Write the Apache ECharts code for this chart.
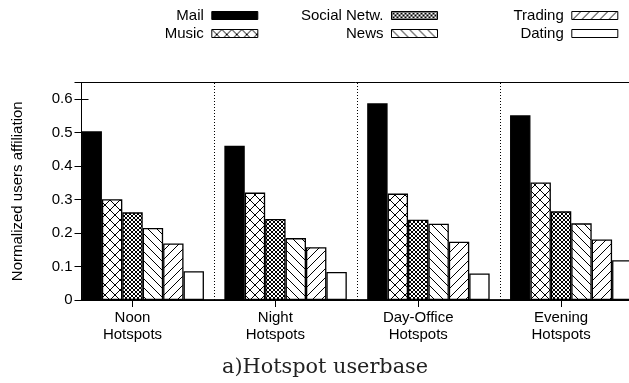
<!DOCTYPE html>
<html>
<head>
<meta charset="utf-8">
<script src="https://cdn.jsdelivr.net/npm/echarts@6/dist/echarts.min.js"></script>
<style>
html, body { margin: 0; padding: 0; background: #fff; }
#chart { width: 629px; height: 383px; }
</style>
</head>
<body>
<div id="chart"></div>
<script>
// Hotspot categories and per-service affiliation values
const categories = ['Noon\nHotspots', 'Night\nHotspots', 'Day-Office\nHotspots', 'Evening\nHotspots'];
const seriesNames = ['Mail', 'Music', 'Social Netw.', 'News', 'Trading', 'Dating'];
const mail    = [0.504, 0.461, 0.588, 0.552];
const music   = [0.301, 0.321, 0.318, 0.351];
const social  = [0.262, 0.242, 0.240, 0.265];
const news    = [0.215, 0.185, 0.228, 0.229];
const trading = [0.169, 0.158, 0.174, 0.181];
const dating  = [0.086, 0.084, 0.079, 0.119];
const yTickLabels = ['0', '0.1', '0.2', '0.3', '0.4', '0.5', '0.6'];

// Frame axis runs in bar-slot units: 4 groups of 6 bars with one empty slot between groups
const slotCount = 27;
const tickSlots = [2.5, 9.5, 16.5, 23.5];
const separatorSlots = [6.5, 13.5, 20.5];

// Plot box in pixels (the right edge runs just past the canvas)
const box = { left: 81.5, top: 82.5, width: 551, height: 217.5 };
const slotPx = box.width / slotCount;

// Hatch tiles for the bar fills
function tile(size, lines) {
  const c = document.createElement('canvas');
  c.width = c.height = size;
  const ctx = c.getContext('2d');
  ctx.fillStyle = '#fff';
  ctx.fillRect(0, 0, size, size);
  ctx.strokeStyle = '#000';
  ctx.lineWidth = 1;
  ctx.beginPath();
  lines.forEach(function (l) { ctx.moveTo(l[0], l[1]); ctx.lineTo(l[2], l[3]); });
  ctx.stroke();
  return c;
}
function back(s) { return [[-1, -1, s + 1, s + 1], [-1, s - 1, 1, s + 1], [s - 1, -1, s + 1, 1]]; }
function fwd(s) { return [[-1, s + 1, s + 1, -1], [-1, 1, 1, -1], [s - 1, s + 1, s + 1, s - 1]]; }

const fills = [
  '#000',
  { image: tile(10, back(10).concat(fwd(10))), repeat: 'repeat' },
  { image: tile(4, back(4).concat(fwd(4))), repeat: 'repeat' },
  { image: tile(9, back(9)), repeat: 'repeat' },
  { image: tile(9, fwd(9)), repeat: 'repeat' },
  '#fff'
];
const values = [mail, music, social, news, trading, dating];

const font = 'Liberation Sans, Arial, Helvetica, sans-serif';

const barSeries = seriesNames.map(function (name, i) {
  return {
    name: name,
    type: 'bar',
    xAxisIndex: 0,
    yAxisIndex: 0,
    data: values[i],
    barGap: '0%',
    barCategoryGap: (100 / 7) + '%',
    itemStyle: { color: fills[i], borderColor: '#000', borderWidth: 1.3 },
    emphasis: { disabled: true },
    z: 2
  };
});

// Legend: three columns of two entries, text right-aligned before the swatch
const legendRight = [370.7, 191, 10.7];
const legendTop = [8, 26];
const legends = seriesNames.map(function (name, i) {
  return {
    data: [name],
    right: legendRight[Math.floor(i / 2)],
    top: legendTop[i % 2],
    align: 'right',
    icon: 'rect',
    padding: 0,
    itemWidth: 46,
    itemHeight: 8,
    itemGap: 0,
    selectedMode: false,
    itemStyle: { borderColor: '#000', borderWidth: 1 },
    textStyle: { fontFamily: font, fontSize: 15, color: '#000', padding: [0, 3, 0, 0] }
  };
});

const chart = echarts.init(document.getElementById('chart'), null, { renderer: 'canvas' });
chart.setOption({
  animation: false,
  backgroundColor: '#fff',
  legend: legends,
  title: {
    text: 'a)Hotspot userbase',
    left: 222,
    top: 357,
    padding: 0,
    textStyle: { fontFamily: 'DejaVu Serif, serif', fontSize: 20.8, fontWeight: 'normal', color: '#222' }
  },
  grid: [
    {
      left: box.left - slotPx / 2,
      top: box.top,
      width: box.width + slotPx,
      height: box.height,
      outerBoundsMode: 'none',
      containLabel: false
    },
    {
      left: box.left,
      top: box.top,
      width: box.width,
      height: box.height,
      show: true,
      borderColor: '#000',
      borderWidth: 1,
      backgroundColor: 'transparent',
      outerBoundsMode: 'none',
      containLabel: false
    }
  ],
  xAxis: [
    {
      type: 'category',
      gridIndex: 0,
      data: categories,
      axisLine: { show: false },
      axisTick: { show: false },
      axisLabel: { show: false },
      splitLine: { show: false }
    },
    {
      type: 'value',
      gridIndex: 1,
      position: 'bottom',
      min: 0,
      max: slotCount,
      axisLine: { show: true, lineStyle: { color: '#000', width: 1.5 } },
      axisTick: { show: false },
      splitLine: { show: false },
      axisLabel: {
        customValues: tickSlots,
        formatter: function (v) { return categories[tickSlots.indexOf(v)] || ''; },
        fontFamily: font,
        fontSize: 15,
        lineHeight: 17,
        color: '#000',
        margin: 9
      }
    },
    {
      type: 'value',
      gridIndex: 1,
      position: 'top',
      min: 0,
      max: slotCount,
      axisLine: { show: true, lineStyle: { color: '#000', width: 1 } },
      axisTick: { show: true, inside: true, length: 7, customValues: tickSlots, lineStyle: { color: '#000' } },
      axisLabel: { show: false },
      splitLine: { show: false }
    }
  ],
  yAxis: [
    {
      type: 'value',
      gridIndex: 0,
      min: 0,
      max: 0.65,
      show: false
    },
    {
      type: 'value',
      gridIndex: 1,
      position: 'left',
      min: 0,
      max: 0.65,
      interval: 0.1,
      name: 'Normalized users affiliation',
      nameLocation: 'middle',
      nameGap: 56,
      nameTextStyle: { fontFamily: font, fontSize: 15, color: '#000' },
      axisLine: { show: true, lineStyle: { color: '#000' } },
      axisTick: { show: true, inside: true, length: 7, lineStyle: { color: '#000' } },
      axisLabel: {
        formatter: function (v) { return yTickLabels[Math.round(v * 10)] || ''; },
        fontFamily: font,
        fontSize: 15,
        color: '#000',
        margin: 9
      },
      splitLine: { show: false }
    },
    {
      type: 'value',
      gridIndex: 1,
      position: 'right',
      min: 0,
      max: 0.65,
      interval: 0.1,
      axisLine: { show: true, lineStyle: { color: '#000' } },
      axisTick: { show: true, inside: true, length: 7, lineStyle: { color: '#000' } },
      axisLabel: { show: false },
      splitLine: { show: false }
    }
  ],
  series: barSeries.concat([
    {
      name: 'separators',
      type: 'line',
      xAxisIndex: 1,
      yAxisIndex: 1,
      data: [],
      silent: true,
      z: 1,
      markLine: {
        silent: true,
        symbol: ['none', 'none'],
        label: { show: false },
        lineStyle: { color: '#000', width: 1, type: [1, 2] },
        emphasis: { disabled: true },
        data: separatorSlots.map(function (s) { return { xAxis: s }; })
      }
    }
  ])
});
</script>
</body>
</html>
